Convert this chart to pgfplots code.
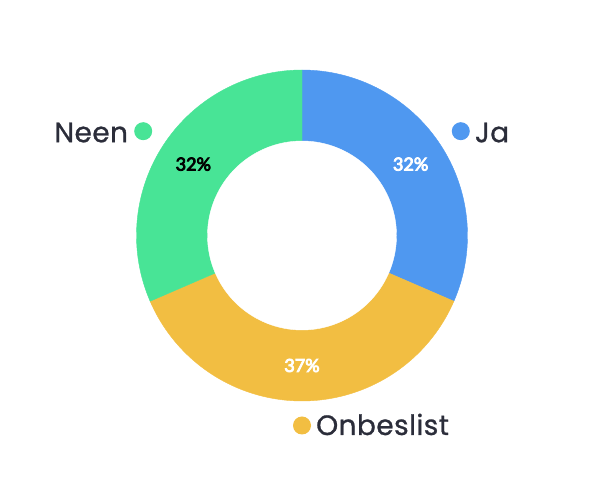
\documentclass[border=0pt]{standalone}
\usepackage{fontspec}
\setmainfont{Poppins}
\newfontfamily\legfont{Poppins}[FakeBold=0.9, LetterSpace=1.5]
\newfontfamily\pctfont{Lato}[FakeBold=4.5]
\usepackage{pgfplots}
\pgfplotsset{compat=1.18}
\definecolor{cJa}{RGB}{79,152,240}
\definecolor{cNeen}{RGB}{72,228,150}
\definecolor{cOn}{RGB}{242,190,66}
\definecolor{txt}{RGB}{43,45,58}
\begin{document}
\begin{tikzpicture}
% data (percent)
\pgfmathsetmacro{\vJa}{31.5}
\pgfmathsetmacro{\vOn}{37.0}
\pgfmathsetmacro{\vNeen}{31.5}
\def\cx{302}\def\cy{265.5}\def\R{165.5}\def\r{94.5}
\pgfmathsetmacro{\aA}{90}
\pgfmathsetmacro{\aB}{\aA-3.6*\vJa}
\pgfmathsetmacro{\aC}{\aB-3.6*\vOn}
\pgfmathsetmacro{\aD}{\aC-3.6*\vNeen}
\pgfmathsetmacro{\mJa}{(\aA+\aB)/2}
\pgfmathsetmacro{\mOn}{(\aB+\aC)/2}
\pgfmathsetmacro{\mNeen}{(\aC+\aD)/2}
\begin{axis}[hide axis, scale only axis, width=613pt, height=501pt,
  xmin=0, xmax=613, ymin=0, ymax=501, clip=false]
\path (axis cs:0,0) rectangle (axis cs:613,501);
\addplot[fill=cJa, draw=cJa, line width=0.4pt, domain=\aB:\aA, samples=120, variable=\t]
  ({\cx+\R*cos(\t)},{\cy+\R*sin(\t)}) -- (axis cs:\cx,\cy) -- cycle;
\addplot[fill=cOn, draw=cOn, line width=0.4pt, domain=\aC:\aB, samples=120, variable=\t]
  ({\cx+\R*cos(\t)},{\cy+\R*sin(\t)}) -- (axis cs:\cx,\cy) -- cycle;
\addplot[fill=cNeen, draw=cNeen, line width=0.4pt, domain=\aD:\aC, samples=120, variable=\t]
  ({\cx+\R*cos(\t)},{\cy+\R*sin(\t)}) -- (axis cs:\cx,\cy) -- cycle;
\addplot[fill=white, draw=white, line width=0.4pt, domain=0:360, samples=180, variable=\t]
  ({\cx+\r*cos(\t)},{\cy+\r*sin(\t)}) -- cycle;
% percentage labels
\node[text=white, font=\pctfont\fontsize{18}{20}\selectfont] at (axis cs:{\cx+130*cos(\mJa)},{\cy+130*sin(\mJa)}) {32\%};
\node[text=white, font=\pctfont\fontsize{18}{20}\selectfont] at (axis cs:{\cx+130*cos(\mOn)},{\cy+130*sin(\mOn)}) {37\%};
\node[text=black, font=\pctfont\fontsize{18}{20}\selectfont] at (axis cs:{\cx+130*cos(\mNeen)},{\cy+130*sin(\mNeen)}) {32\%};
% outer labels
\fill[cJa] (axis cs:{\cx+190*cos(\mJa)},{\cy+190*sin(\mJa)}) circle[radius=9pt];
\fill[cOn] (axis cs:{\cx+190*cos(\mOn)},{\cy+190*sin(\mOn)}) circle[radius=9pt];
\fill[cNeen] (axis cs:{\cx+190*cos(\mNeen)},{\cy+190*sin(\mNeen)}) circle[radius=9pt];
\node[anchor=base west, inner sep=0pt, text=txt, font=\legfont\fontsize{28}{30}\selectfont] at (axis cs:{\cx+190*cos(\mJa)+14},{\cy+190*sin(\mJa)-11}) {Ja};
\node[anchor=base west, inner sep=0pt, text=txt, font=\legfont\fontsize{28}{30}\selectfont] at (axis cs:{\cx+190*cos(\mOn)+14},{\cy+190*sin(\mOn)-9.5}) {Onbeslist};
\node[anchor=base east, inner sep=0pt, text=txt, font=\legfont\fontsize{28}{30}\selectfont] at (axis cs:{\cx+190*cos(\mNeen)-15},{\cy+190*sin(\mNeen)-11}) {Neen};
\end{axis}
\end{tikzpicture}
\end{document}
